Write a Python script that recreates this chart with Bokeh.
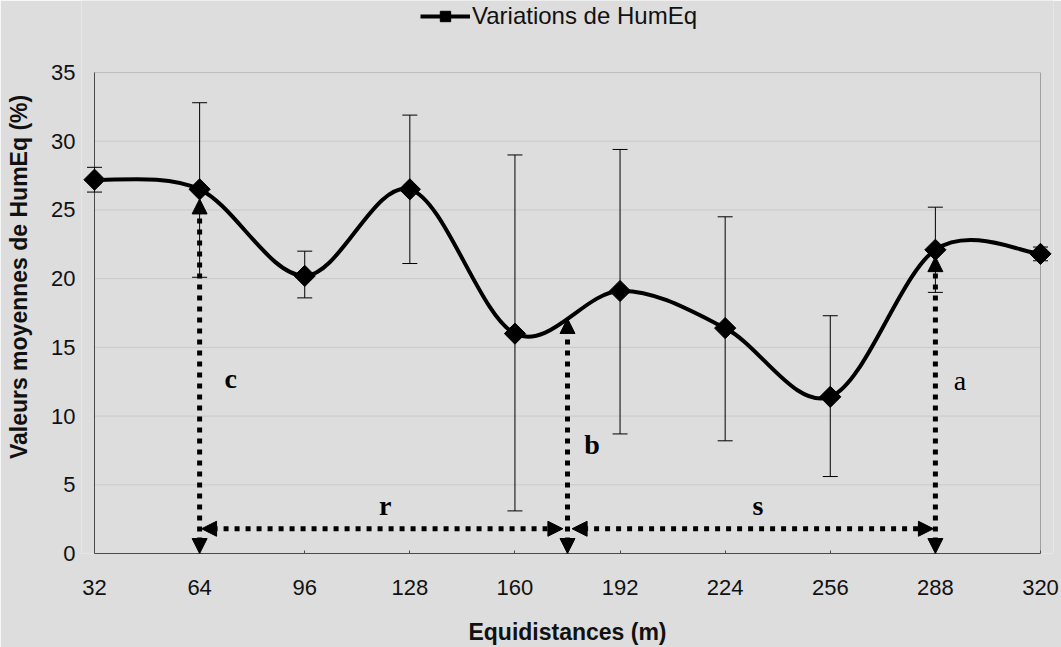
import numpy as np
from bokeh.plotting import figure
from bokeh.models import (ColumnDataSource, Range1d, Whisker, TeeHead, Arrow,
                          NormalHead, Legend, LegendItem, FixedTicker)
from bokeh.core.properties import value
from bokeh.embed import file_html
from bokeh.resources import INLINE

# ---- data ----
distances = [32, 64, 96, 128, 160, 192, 224, 256, 288, 320]
humeq = [27.2, 26.5, 20.2, 26.5, 16.0, 19.1, 16.4, 11.4, 22.1, 21.8]
err_upper = [28.1, 32.8, 22.0, 31.9, 29.0, 29.4, 24.5, 17.3, 25.2, 22.3]
err_lower = [26.3, 20.1, 18.6, 21.1, 3.1, 8.7, 8.2, 5.6, 19.0, 21.3]
x_ticks = [32, 64, 96, 128, 160, 192, 224, 256, 288, 320]
y_ticks = [0, 5, 10, 15, 20, 25, 30, 35]
series_name = "Variations de HumEq"

# annotation arrows (x_start, y_start, x_end, y_end)
arrow_x0 = [64, 64.6, 176, 177.4, 288]
arrow_y0 = [0, 1.8, 0, 1.8, 0]
arrow_x1 = [64, 174.6, 176, 287.4, 288]
arrow_y1 = [25.8, 1.8, 17.1, 1.8, 21.6]
label_text = ["c", "r", "b", "s", "a"]
label_x = [73.5, 120.5, 183.5, 234.0, 295.5]
label_y = [12.7, 3.5, 7.9, 3.5, 12.6]
label_bold = [True, True, True, True, False]

BG = "#dddddd"
INK = "#111111"
AXIS = "#4a4a4a"

# The drawing area is padded beyond the data span (so end markers are not cut,
# and the legend fits at the top); axis / border lines are limited to the span.
px_x = 946 / 288.0      # pixels per x unit
px_y = 481 / 35.0       # pixels per y unit
pad_x = 13 / px_x
pad_top = 72 / px_y

p = figure(width=1061, height=647, output_backend="svg", toolbar_location=None,
           x_range=Range1d(x_ticks[0] - pad_x, x_ticks[-1] + pad_x),
           y_range=Range1d(y_ticks[0], y_ticks[-1] + pad_top),
           min_border_left=81, min_border_right=8, min_border_top=0,
           min_border_bottom=94)
p.background_fill_color = BG
p.border_fill_color = BG
p.outline_line_color = None
p.xgrid.visible = False
p.ygrid.visible = False

# gridlines, top dotted line, right border, left axis line
p.segment(x0=x_ticks[0], x1=x_ticks[-1], y0=y_ticks[1:-1], y1=y_ticks[1:-1],
          line_color="#c9c9c9", line_width=1, level="underlay")
p.segment(x0=x_ticks[0], x1=x_ticks[-1], y0=y_ticks[-1], y1=y_ticks[-1],
          line_color="#9c9c9c", line_width=1, line_dash="1 1", level="underlay")
p.segment(x0=x_ticks[-1], x1=x_ticks[-1], y0=y_ticks[0], y1=y_ticks[-1],
          line_color="#a0a0a0", line_width=1, level="underlay")
p.segment(x0=x_ticks[0], x1=x_ticks[0], y0=y_ticks[0], y1=y_ticks[-1],
          line_color=AXIS, line_width=1, level="underlay")

# axes
for ax in (p.xaxis[0], p.yaxis[0]):
    ax.axis_line_color = AXIS
    ax.axis_line_width = 1
    ax.major_tick_line_color = AXIS
    ax.minor_tick_line_color = None
    ax.major_label_text_font = "Liberation Sans"
    ax.major_label_text_font_size = "22px"
    ax.major_label_text_color = INK
    ax.axis_label_text_font = "Liberation Sans"
    ax.axis_label_text_font_size = "23px"
    ax.axis_label_text_font_style = "bold"
    ax.axis_label_text_color = INK

p.xaxis.ticker = FixedTicker(ticks=x_ticks)
p.xaxis.bounds = (x_ticks[0], x_ticks[-1])
p.xaxis.major_tick_in = 3
p.xaxis.major_tick_out = 0
p.xaxis.major_label_standoff = 26
p.xaxis.axis_label = "Equidistances (m)"
p.xaxis.axis_label_standoff = 21

p.yaxis.ticker = FixedTicker(ticks=y_ticks)
p.yaxis.bounds = (y_ticks[0], y_ticks[-1])
p.yaxis.axis_line_color = None
p.yaxis.major_tick_line_color = None
p.yaxis.major_tick_in = 0
p.yaxis.major_tick_out = 0
p.yaxis.major_label_standoff = 6
p.yaxis.axis_label = "Valeurs moyennes de HumEq (%)"
p.yaxis.axis_label_standoff = 16

# smoothed curve (Catmull-Rom style bezier through the data points)
pts = np.column_stack([distances, humeq]).astype(float)
n = len(pts)
bx0, by0, bx1, by1, bcx0, bcy0, bcx1, bcy1 = ([] for _ in range(8))
for i in range(n - 1):
    P0 = pts[max(i - 1, 0)]
    P1 = pts[i]
    P2 = pts[i + 1]
    P3 = pts[min(i + 2, n - 1)]
    c1 = P1 + (P2 - P0) / 6.0
    c2 = P2 - (P3 - P1) / 6.0
    bx0.append(P1[0]); by0.append(P1[1])
    bx1.append(P2[0]); by1.append(P2[1])
    bcx0.append(c1[0]); bcy0.append(c1[1])
    bcx1.append(c2[0]); bcy1.append(c2[1])
bsrc = ColumnDataSource(dict(x0=bx0, y0=by0, x1=bx1, y1=by1,
                             cx0=bcx0, cy0=bcy0, cx1=bcx1, cy1=bcy1))
curve = p.bezier(x0="x0", y0="y0", x1="x1", y1="y1", cx0="cx0", cy0="cy0",
                 cx1="cx1", cy1="cy1", source=bsrc, line_color="black", line_width=4)

# error bars
src = ColumnDataSource(dict(x=distances, y=humeq, upper=err_upper, lower=err_lower))
p.add_layout(Whisker(source=src, base="x", upper="upper", lower="lower",
                     line_color="black", line_width=1,
                     upper_head=TeeHead(size=15, line_color="black", line_width=1),
                     lower_head=TeeHead(size=15, line_color="black", line_width=1)))

# arrows
for xs, ys, xe, ye in zip(arrow_x0, arrow_y0, arrow_x1, arrow_y1):
    p.add_layout(Arrow(x_start=xs, y_start=ys, x_end=xe, y_end=ye,
                       line_color="black", line_width=5, line_dash="5 6",
                       start=NormalHead(size=15, line_color="black", fill_color="black", line_width=1),
                       end=NormalHead(size=15, line_color="black", fill_color="black", line_width=1)))

# markers
marks = p.scatter("x", "y", source=src, marker="square", angle=np.pi / 4, size=15,
                  fill_color="black", line_color="black")

# labels
for t, lx, ly, bold in zip(label_text, label_x, label_y, label_bold):
    p.text(x=[lx], y=[ly], text=[t], text_font=value("Liberation Serif"),
           text_font_size="28px", text_font_style="bold" if bold else "normal",
           text_align="center", text_baseline="middle", text_color="black")

# legend (inside the padded top strip of the drawing area)
legend = Legend(items=[LegendItem(label=series_name, renderers=[curve, marks])],
                orientation="horizontal", location=(339, 523),
                background_fill_alpha=0, border_line_alpha=0,
                label_text_font="Liberation Sans", label_text_font_size="24px",
                label_text_color=INK, glyph_width=50, glyph_height=26,
                margin=0, padding=0, label_standoff=2)
p.add_layout(legend, "center")

open("out.html", "w").write(file_html(p, INLINE))
